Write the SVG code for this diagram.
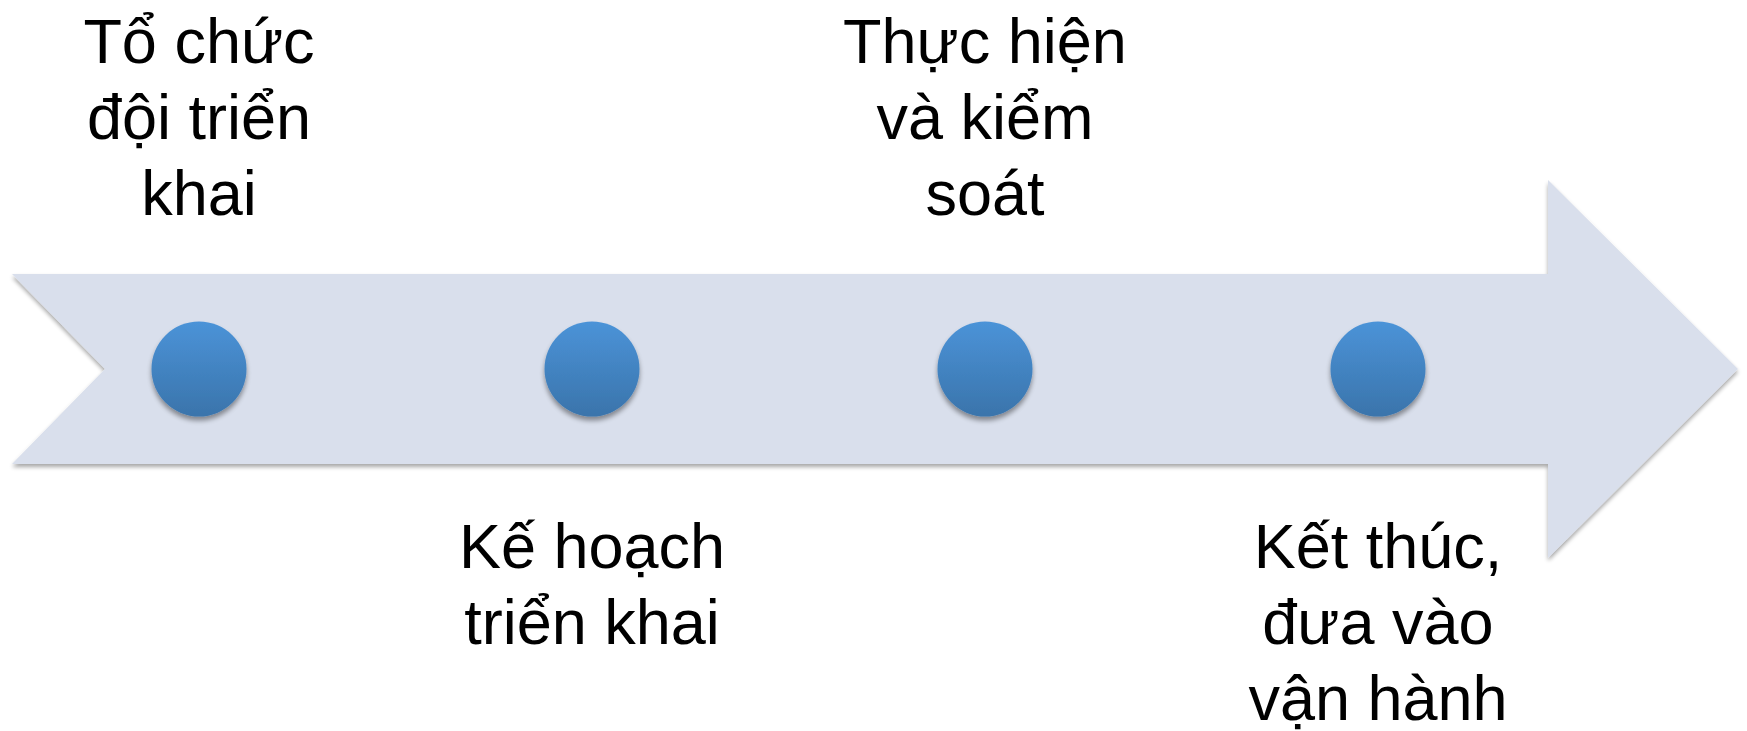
<svg xmlns="http://www.w3.org/2000/svg" width="1747" height="731" viewBox="0 0 1747 731">
<defs>
<linearGradient id="dot" x1="0" y1="0" x2="0" y2="1">
<stop offset="0" stop-color="#4b93d8"/>
<stop offset="1" stop-color="#3a74ab"/>
</linearGradient>
<filter id="sh" x="-10%" y="-10%" width="120%" height="130%">
<feGaussianBlur in="SourceAlpha" stdDeviation="2"/>
<feOffset dx="0" dy="3" result="b"/>
<feComponentTransfer><feFuncA type="linear" slope="0.35"/></feComponentTransfer>
<feMerge><feMergeNode/><feMergeNode in="SourceGraphic"/></feMerge>
</filter>
<filter id="shd" x="-30%" y="-30%" width="160%" height="170%">
<feGaussianBlur in="SourceAlpha" stdDeviation="2.5"/>
<feOffset dx="0" dy="4" result="b"/>
<feComponentTransfer><feFuncA type="linear" slope="0.4"/></feComponentTransfer>
<feMerge><feMergeNode/><feMergeNode in="SourceGraphic"/></feMerge>
</filter>
</defs>
<style>
.lbl{font-family:"Liberation Sans",Arial,sans-serif;font-size:63px;fill:#000;text-anchor:middle}
.dot{fill:url(#dot);filter:url(#shd)}
</style>
<rect width="1747" height="731" fill="#fff"/>
<g id="connectors">
<path id="arrow" d="M12,274 L1548,274 L1548,180 L1738,369 L1548,558 L1548,464 L12,464 L105,369 Z" fill="#d9dfec" filter="url(#sh)"/>
</g>
<g id="node1">
<circle class="dot" cx="199" cy="369" r="47.5"/>
<text class="lbl" x="199" y="63">Tổ chức</text>
<text class="lbl" x="199" y="139">đội triển</text>
<text class="lbl" x="199" y="215">khai</text>
</g>
<g id="node2">
<circle class="dot" cx="592" cy="369" r="47.5"/>
<text class="lbl" x="592" y="568">Kế hoạch</text>
<text class="lbl" x="592" y="644">triển khai</text>
</g>
<g id="node3">
<circle class="dot" cx="985" cy="369" r="47.5"/>
<text class="lbl" x="985" y="63">Thực hiện</text>
<text class="lbl" x="985" y="139">và kiểm</text>
<text class="lbl" x="985" y="215">soát</text>
</g>
<g id="node4">
<circle class="dot" cx="1378" cy="369" r="47.5"/>
<text class="lbl" x="1378" y="568">Kết thúc,</text>
<text class="lbl" x="1378" y="644">đưa vào</text>
<text class="lbl" x="1378" y="720">vận hành</text>
</g>
</svg>
